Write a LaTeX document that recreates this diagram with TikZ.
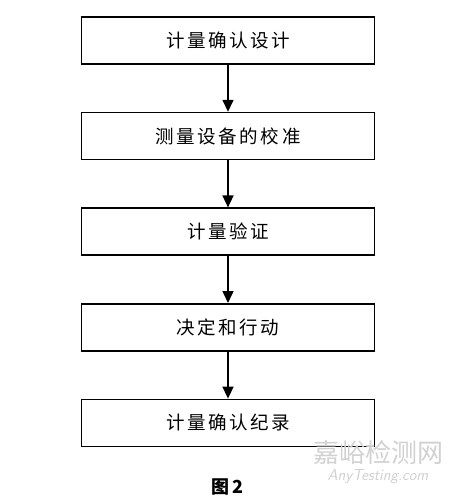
\documentclass[tikz,border=0pt]{standalone}
\usepackage{fontspec}
\newfontfamily\cjk[LetterSpace=14]{Noto Sans CJK SC}
\newfontfamily\cjkplain{Noto Sans CJK SC}
\usepackage{tikz}
\usetikzlibrary{positioning,arrows.meta}

\begin{document}
\begin{tikzpicture}[
  x=1pt, y=1pt,
  node distance=47pt,
  stepbox/.style={draw, line width=1.6pt, minimum width=293pt, minimum height=47pt,
    inner sep=0pt, font=\cjk\fontsize{18.5}{20}\selectfont},
  flow/.style={line width=1.5pt, -{Triangle[length=12pt,width=11pt]}}
]
\useasboundingbox (0,0) rectangle (460,-498);
\node[stepbox] (design) at (228,-40.5) {计量确认设计};
\node[stepbox, below=of design] (calib) {测量设备的校准};
\node[stepbox, below=of calib] (verify) {计量验证};
\node[stepbox, below=of verify] (decide) {决定和行动};
\node[stepbox, below=of decide] (record) {计量确认纪录};
\draw[flow] (design) -- (calib);
\draw[flow] (calib) -- (verify);
\draw[flow] (verify) -- (decide);
\draw[flow] (decide) -- (record);
% caption and watermark
\node[font=\cjkplain\bfseries\fontsize{18}{20}\selectfont] (caption) at (227,-487) {图\,2};
\node[inner sep=0pt, font=\cjkplain\fontsize{26}{28}\selectfont, text=black!18] (mark) at (378,-453) {嘉峪检测网};
\node[inner sep=0pt, font=\sffamily\itshape\fontsize{16}{18}\selectfont, text=black!18] (markurl) at (378,-477) {AnyTesting.com};
\end{tikzpicture}
\end{document}
